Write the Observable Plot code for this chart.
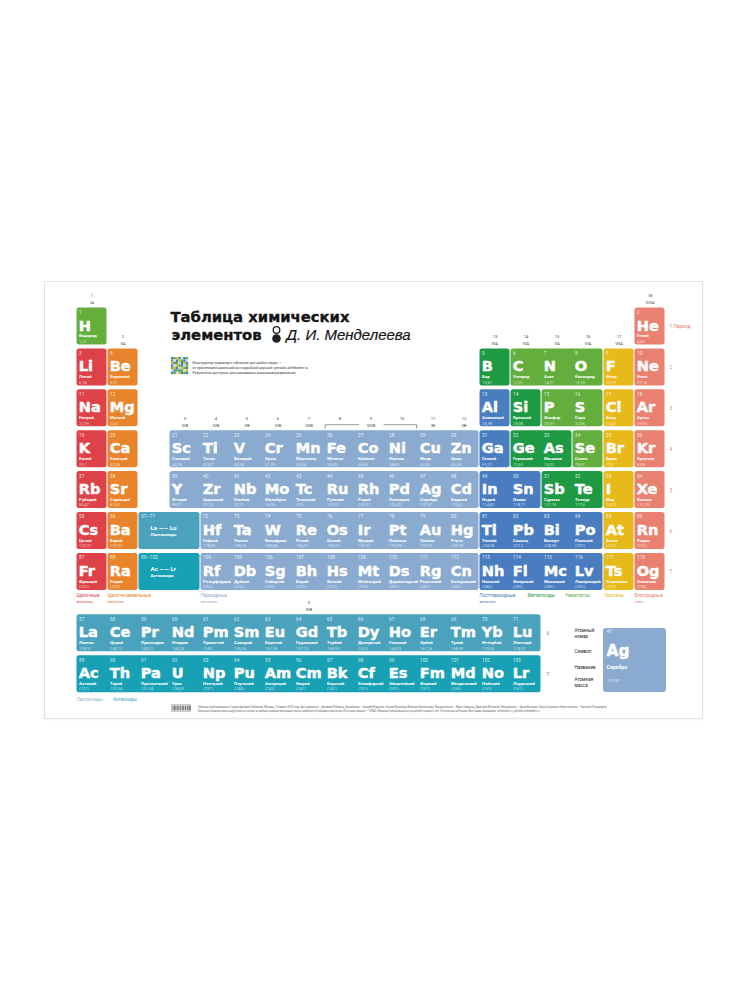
<!DOCTYPE html>
<html><head><meta charset="utf-8">
<script src="https://cdn.jsdelivr.net/npm/d3@7"></script>
<script src="https://cdn.jsdelivr.net/npm/@observablehq/plot@0.6"></script>
<style>
html,body{margin:0;padding:0;background:#fff;width:750px;height:1000px;overflow:hidden}
#poster{position:absolute;left:45px;top:282px;width:657px;height:436px;background:#fff;box-shadow:0 0 0 1px #e3e3e3,0 1px 3px rgba(0,0,0,.08)}
#poster svg{overflow:visible}
</style></head><body><div id="poster"></div>
<script>
// ---------- data ----------
const symbols = ["H","He","Li","Be","B","C","N","O","F","Ne","Na","Mg","Al","Si","P","S","Cl","Ar","K","Ca","Sc","Ti","V","Cr","Mn","Fe","Co","Ni","Cu","Zn","Ga","Ge","As","Se","Br","Kr","Rb","Sr","Y","Zr","Nb","Mo","Tc","Ru","Rh","Pd","Ag","Cd","In","Sn","Sb","Te","I","Xe","Cs","Ba","La","Ce","Pr","Nd","Pm","Sm","Eu","Gd","Tb","Dy","Ho","Er","Tm","Yb","Lu","Hf","Ta","W","Re","Os","Ir","Pt","Au","Hg","Tl","Pb","Bi","Po","At","Rn","Fr","Ra","Ac","Th","Pa","U","Np","Pu","Am","Cm","Bk","Cf","Es","Fm","Md","No","Lr","Rf","Db","Sg","Bh","Hs","Mt","Ds","Rg","Cn","Nh","Fl","Mc","Lv","Ts","Og"];
const names = ["Водород","Гелий","Литий","Бериллий","Бор","Углерод","Азот","Кислород","Фтор","Неон","Натрий","Магний","Алюминий","Кремний","Фосфор","Сера","Хлор","Аргон","Калий","Кальций","Скандий","Титан","Ванадий","Хром","Марганец","Железо","Кобальт","Никель","Медь","Цинк","Галлий","Германий","Мышьяк","Селен","Бром","Криптон","Рубидий","Стронций","Иттрий","Цирконий","Ниобий","Молибден","Технеций","Рутений","Родий","Палладий","Серебро","Кадмий","Индий","Олово","Сурьма","Теллур","Иод","Ксенон","Цезий","Барий","Лантан","Церий","Празеодим","Неодим","Прометий","Самарий","Европий","Гадолиний","Тербий","Диспрозий","Гольмий","Эрбий","Тулий","Иттербий","Лютеций","Гафний","Тантал","Вольфрам","Рений","Осмий","Иридий","Платина","Золото","Ртуть","Таллий","Свинец","Висмут","Полоний","Астат","Радон","Франций","Радий","Актиний","Торий","Протактиний","Уран","Нептуний","Плутоний","Америций","Кюрий","Берклий","Калифорний","Эйнштейний","Фермий","Менделевий","Нобелий","Лоуренсий","Резерфордий","Дубний","Сиборгий","Борий","Хассий","Мейтнерий","Дармштадтий","Рентгений","Коперниций","Нихоний","Флеровий","Московий","Ливерморий","Теннессин","Оганесон"];
const masses = ["1,01","4,00","6,94","9,01","10,81","12,01","14,01","15,99","18,99","20,18","22,99","24,3","26,98","28,08","30,97","32,06","35,45","39,95","39,1","40,08","44,96","47,87","50,94","51,99","54,94","55,85","58,93","58,69","63,55","65,38","69,72","72,63","74,92","78,97","79,9","83,8","85,47","87,62","88,91","91,22","92,91","95,95","(97)","101,07","102,91","106,42","107,87","112,41","114,82","118,71","121,76","127,6","126,9","131,29","132,91","137,33","138,91","140,12","140,91","144,24","(145)","150,36","151,96","157,25","158,93","162,5","164,93","167,26","168,93","173,05","174,97","178,49","180,95","183,84","186,21","190,23","192,22","195,08","196,97","200,59","204,38","207,2","208,98","(209)","(210)","(222)","(223)","(226)","(227)","232,04","231,04","238,03","(237)","(244)","(243)","(247)","(247)","(251)","(252)","(257)","(258)","(259)","(262)","(267)","(270)","(269)","(270)","(270)","(278)","(281)","(281)","(285)","(286)","(289)","(289)","(293)","(293)","(294)"];

const alkali = ["Li","Na","K","Rb","Cs","Fr"];
const alkalineEarth = ["Be","Mg","Ca","Sr","Ba","Ra"];
const postTransition = ["Al","Ga","In","Sn","Tl","Pb","Bi","Po","Nh","Fl","Mc","Lv"];
const metalloids = ["B","Si","Ge","As","Sb","Te"];
const nonmetals = ["H","C","N","O","P","S","Se"];
const halogens = ["F","Cl","Br","I","At","Ts"];
const nobleGases = ["He","Ne","Ar","Kr","Xe","Rn","Og"];

const kindKeys   = ["alkali","alkaline","transition","post","metalloid","nonmetal","halogen","noble","lanthanide","actinide"];
const kindColors = ["#dc4248","#e8842b","#8aabcf","#4a7dbf","#1f9a44","#64ae3e","#e7b91b","#e8816f","#4aa2bd","#18a0b4"];

const legendLabels = [["Щелочные","металлы"],["Щелочноземельные","металлы"],["Переходные","металлы"],["Постпереходные","металлы"],["Металлоиды",""],["Неметаллы",""],["Галогены",""],["Благородные","газы"]];
const legendKinds = ["alkali","alkaline","transition","post","metalloid","nonmetal","halogen","noble"];

const groupNumbers = ["1","2","3","4","5","6","7","8","9","10","11","12","13","14","15","16","17","18"];
const groupRoman = ["IA","IIA","IIIB","IVB","VB","VIB","VIIB","","VIIIB","","IB","IIB","IIIA","IVA","VA","VIA","VIIA","VIIIA"];
const periodLabels = ["1 Период","2","3","4","5","6","7"];

const placeholders = [
  {range:"57—71", text:"La —— Lu", name:"Лантаноиды", kind:"lanthanide", period:6},
  {range:"89—103", text:"Ac —— Lr", name:"Актиноиды", kind:"actinide", period:7}
];
const fBlockLegend = [["Лантаноиды","#8fb9cb"],["Актиноиды","#3aa5bb"]];
const keyLabels = [["Атомный","номер"],["Символ",""],["Название",""],["Атомная","масса"]];

const title1 = "Таблица химических";
const title2 = "элементов";
const title3 = "Д. И. Менделеева";
const introLines = ["Конструктор плакатов с таблицей для любых задач —","от простейшей школьной до подробной научной: periodic.artlebedev.ru.","Результаты доступны для скачивания в высоком разрешении"];
const footerLines = [
 "Таблица опубликована в Студии Артемия Лебедева. Москва, 22 марта 2023 года. Арт-директор — Артемий Лебедев. Дизайнеры — Андрей Ковалёв, Сергей Кузнецов, Валерия Филиппова. Консультанты — Иван Смирнов, Дмитрий Игнатьев. Менеджеры — Анна Беляева, Ольга Сорокина. Верстальщик — Евгений Пономарёв.",
 "Значения атомных масс округлены до сотых; в скобках указаны массовые числа наиболее устойчивых изотопов. Источник данных — IUPAC. Издание предназначено для детей старше 6 лет. Отпечатано в России. Все права защищены. artlebedev.ru, periodic.artlebedev.ru"
];
const qrPattern = ["BGYBLBG","GLBYGBL","YBGLBYB","BLYGBLG","GYBLYGB","LBGBGLY","BGLYBGB"];
const barcodeBars = [0,1,1.8,2.6,4,4.8,6,7.2,8,9.4,10.2,11,12.4,13.2,14.6,15.4,16.6,17.4];

// ---------- derived grid positions ----------
const kindOf = n => {
  const s = symbols[n-1];
  if (n>=57 && n<=71) return "lanthanide";
  if (n>=89 && n<=103) return "actinide";
  if (alkali.includes(s)) return "alkali";
  if (alkalineEarth.includes(s)) return "alkaline";
  if (postTransition.includes(s)) return "post";
  if (metalloids.includes(s)) return "metalloid";
  if (nonmetals.includes(s)) return "nonmetal";
  if (halogens.includes(s)) return "halogen";
  if (nobleGases.includes(s)) return "noble";
  return "transition";
};
const periodStarts = [1,3,11,19,37,55,87,119];
const cells = symbols.map((sym,i)=>{
  const n=i+1;
  let p=0; while(n>=periodStarts[p+1]) p++;
  const off=n-periodStarts[p], period=p+1;
  let col,row,g=null;
  if (n>=57&&n<=71){col=n-57;row=8.5;}
  else if (n>=89&&n<=103){col=n-89;row=9.5;}
  else {
    if (period===1) g = n===1?1:18;
    else if (period<=3) g = off<2?off+1:off+11;
    else if (period<=5) g = off+1;
    else g = off<2?off+1:off-13;
    col = g<=2?g-1:g; row=period;
  }
  return {n,sym,name:names[i],mass:masses[i],col,row,g,kind:kindOf(n)};
});
const phCells = placeholders.map(d=>({...d,col:2,w:2,row:d.period}));

// merged colour runs per row
const runs=[];
const items=[...cells.map(c=>({row:c.row,col:c.col,w:1,kind:c.kind})),...phCells.map(c=>({row:c.row,col:c.col,w:c.w,kind:c.kind}))];
for (const [row,arr] of d3.groups(items,d=>d.row)) {
  arr.sort((a,b)=>a.col-b.col);
  for (const c of arr) {
    const last=runs[runs.length-1];
    if (last && last.row===row && last.kind===c.kind && last.x2===c.col) last.x2=c.col+c.w;
    else runs.push({row,kind:c.kind,x1:c.col,x2:c.col+c.w});
  }
}
const groups = groupNumbers.map((num,i)=>{
  const g=i+1;
  const members=cells.filter(c=>c.g===g);
  return {num,roman:groupRoman[i],col:members[0].col,row:d3.min(members,c=>c.row)};
});
const periods = periodLabels.map((t,i)=>({t,row:i+1}));

// page px -> scale helpers for annotations
const X = px => (px-76)/31;
const Y = py => 1+(py-307)/40.9;
const CH = 38/40.9;
const SANS = "Roboto, 'DejaVu Sans', sans-serif";
const SYM = "'DejaVu Sans', sans-serif";
const legendCols = [0,1,4,13,X(527),X(565),X(604),18];

const agCell = cells.find(c=>c.sym==="Ag");
const qrCells = qrPattern.flatMap((r,j)=>[...r].map((ch,i)=>({i,j,ch})));
const qrColor = {B:"#3d7fc1",G:"#62ae3e",Y:"#e7b91b",L:"#cfe0ee"};

const chart = Plot.plot({
  width:657, height:436, margin:0,
  x:{domain:[0,19], range:[31,620], axis:null},
  y:{domain:[1,10], range:[25,25+9*40.9], axis:null},
  color:{domain:kindKeys, range:kindColors},
  style:{background:"transparent", overflow:"visible"},
  marks:[
    // coloured runs
    Plot.rect(runs,{x1:"x1",x2:"x2",y1:"row",y2:d=>d.row+CH,fill:"kind",inset:0.5,rx:2.5}),
    // element text
    Plot.text(cells,{x:"col",y:"row",text:d=>String(d.n),dx:2.6,dy:5,textAnchor:"start",lineAnchor:"middle",fontSize:4.6,fill:"white",fillOpacity:0.85,fontFamily:SANS}),
    Plot.text(cells,{x:"col",y:"row",text:"sym",dx:2.2,dy:18.4,textAnchor:"start",lineAnchor:"middle",fontSize:14.6,fontWeight:"bold",fill:"white",stroke:"white",strokeWidth:0.45,fontFamily:SYM}),
    Plot.text(cells,{x:"col",y:"row",text:"name",dx:2.6,dy:28.6,textAnchor:"start",lineAnchor:"middle",fontSize:4.3,fontWeight:"bold",fill:"white",fontFamily:SANS}),
    Plot.text(cells,{x:"col",y:"row",text:"mass",dx:2.6,dy:34,textAnchor:"start",lineAnchor:"middle",fontSize:4.1,fill:"white",fillOpacity:0.7,fontFamily:SANS}),
    // placeholders
    Plot.text(phCells,{x:"col",y:"row",text:"range",dx:2.6,dy:5,textAnchor:"start",lineAnchor:"middle",fontSize:4.6,fill:"white",fillOpacity:0.85,fontFamily:SANS}),
    Plot.text(phCells,{x:"col",y:"row",text:"text",dx:12,dy:16,textAnchor:"start",lineAnchor:"middle",fontSize:6.2,fontWeight:"bold",fill:"white",fontFamily:SANS}),
    Plot.text(phCells,{x:"col",y:"row",text:"name",dx:12,dy:22.5,textAnchor:"start",lineAnchor:"middle",fontSize:4.3,fontWeight:"bold",fill:"white",fontFamily:SANS}),
    // group labels
    Plot.text(groups,{x:d=>d.col+0.5,y:"row",text:"num",dy:-11.5,lineAnchor:"middle",fontSize:4.2,fill:"#444",fontFamily:SANS}),
    Plot.text(groups,{x:d=>d.col+0.5,y:"row",text:"roman",dy:-5,lineAnchor:"middle",fontSize:4.2,fill:"#444",fontFamily:SANS}),
    Plot.text([{num:"3",roman:"IIIB"}],{x:7.5,y:8.5,text:"num",dy:-11.5,lineAnchor:"middle",fontSize:4.2,fill:"#444",fontFamily:SANS}),
    Plot.text([{num:"3",roman:"IIIB"}],{x:7.5,y:8.5,text:"roman",dy:-5,lineAnchor:"middle",fontSize:4.2,fill:"#444",fontFamily:SANS}),
    // VIIIB bracket
    Plot.line([{s:0,x:8.02,y:4-2.2/40.9},{s:0,x:8.02,y:4-5.5/40.9},{s:0,x:9.1,y:4-5.5/40.9},
               {s:1,x:9.92,y:4-5.5/40.9},{s:1,x:10.97,y:4-5.5/40.9},{s:1,x:10.97,y:4-2.2/40.9}],
      {x:"x",y:"y",z:"s",stroke:"#555",strokeWidth:0.6}),
    // period labels
    Plot.text(periods,{x:19,y:"row",text:"t",dx:4,dy:19,textAnchor:"start",lineAnchor:"middle",fontSize:4.8,fill:"#e0806f",fontFamily:SANS}),
    Plot.text([{t:"6",row:8.5},{t:"7",row:9.5}],{x:15,y:"row",text:"t",dx:5,dy:19,textAnchor:"start",lineAnchor:"middle",fontSize:4.8,fill:"#777",fontFamily:SANS}),
    // category legend
    Plot.text(legendLabels.map((l,i)=>({l:l[0],k:legendKinds[i],c:legendCols[i]})),
      {x:"c",y:7,text:"l",dy:43,textAnchor:"start",lineAnchor:"middle",fontSize:4.5,fill:"k",fontFamily:SANS}),
    Plot.text(legendLabels.map((l,i)=>({l:l[1],k:legendKinds[i],c:legendCols[i]})),
      {x:"c",y:7,text:"l",dy:48.6,textAnchor:"start",lineAnchor:"middle",fontSize:3.9,fill:"k",fontFamily:SANS}),
    Plot.text(fBlockLegend.map((l,i)=>({l:l[0],col:l[1],c:[0,X(112.5)][i]})),
      {x:"c",y:9.5,text:"l",dy:44.5,textAnchor:"start",lineAnchor:"middle",fontSize:4.6,fontStyle:"italic",fill:d=>d.col,fontFamily:SANS}),
    // title
    Plot.text([title1],{x:X(170),y:Y(316.7),text:d=>d,textAnchor:"start",lineAnchor:"middle",fontSize:14.8,fontWeight:"bold",fill:"#151515",stroke:"#151515",strokeWidth:0.35,fontFamily:SYM}),
    Plot.text([title2],{x:X(171),y:Y(334.6),text:d=>d,textAnchor:"start",lineAnchor:"middle",fontSize:14.8,fontWeight:"bold",fill:"#151515",stroke:"#151515",strokeWidth:0.35,fontFamily:SYM}),
    Plot.dot([0],{x:X(276),y:Y(338),r:4.3,fill:"#222"}),
    Plot.dot([0],{x:X(276),y:Y(329.5),r:3.3,fill:"white",stroke:"#222",strokeWidth:1.3}),
    Plot.text([title3],{x:X(286),y:Y(334.7),text:d=>d,textAnchor:"start",lineAnchor:"middle",fontSize:15,fontStyle:"italic",fill:"#151515",stroke:"#151515",strokeWidth:0.2,fontFamily:"'Liberation Sans', Arial, sans-serif"}),
    // QR + intro
    Plot.rect(qrCells,{x1:d=>X(171+d.i*2.45),x2:d=>X(171+(d.i+1)*2.45),y1:d=>Y(357+d.j*2.45),y2:d=>Y(357+(d.j+1)*2.45),fill:d=>qrColor[d.ch]}),
    Plot.text(introLines.map((t,i)=>({t,i})),{x:X(192),y:d=>Y(362+d.i*5.2),text:"t",textAnchor:"start",lineAnchor:"middle",fontSize:3.5,fill:"#333",fontFamily:SANS}),
    // key
    Plot.text(keyLabels.map((l,i)=>({l:l[0],i})),{x:X(574),y:d=>Y([630,651,667,679][d.i]),text:"l",textAnchor:"start",lineAnchor:"middle",fontSize:4.6,fill:"#222",fontFamily:SANS}),
    Plot.text(keyLabels.map((l,i)=>({l:l[1],i})),{x:X(574),y:d=>Y([635.6,651,667,684.6][d.i]),text:"l",textAnchor:"start",lineAnchor:"middle",fontSize:4.6,fill:"#222",fontFamily:SANS}),
    Plot.rect([agCell],{x1:X(603),x2:X(666),y1:Y(628),y2:Y(692),fill:"kind",rx:3}),
    Plot.text([agCell],{x:X(606),y:Y(631),text:d=>String(d.n),textAnchor:"start",lineAnchor:"middle",fontSize:5,fill:"white",fillOpacity:0.85,fontFamily:SANS}),
    Plot.text([agCell],{x:X(606),y:Y(650.5),text:"sym",textAnchor:"start",lineAnchor:"middle",fontSize:15.5,fontWeight:"bold",fill:"white",stroke:"white",strokeWidth:0.45,fontFamily:SYM}),
    Plot.text([agCell],{x:X(606),y:Y(666.7),text:"name",textAnchor:"start",lineAnchor:"middle",fontSize:5.2,fontWeight:"bold",fill:"white",fontFamily:SANS}),
    Plot.text([agCell],{x:X(606),y:Y(680),text:"mass",textAnchor:"start",lineAnchor:"middle",fontSize:4.4,fill:"white",fillOpacity:0.7,fontFamily:SANS}),
    // footer
    Plot.rect([0],{x1:X(171.5),x2:X(190.5),y1:Y(704.5),y2:Y(711.5),fill:"white",stroke:"#999",strokeWidth:0.5}),
    Plot.ruleX(barcodeBars,{x:d=>X(172.3+d),y1:Y(705.5),y2:Y(710.5),stroke:"#333",strokeWidth:0.55}),
    Plot.text(footerLines.map((t,i)=>({t,i})),{x:X(197),y:d=>Y(706.3+d.i*4.6),text:"t",textAnchor:"start",lineAnchor:"middle",fontSize:2.7,fill:"#666",fontFamily:SANS})
  ]
});
document.getElementById("poster").appendChild(chart);
</script>
</body></html>
